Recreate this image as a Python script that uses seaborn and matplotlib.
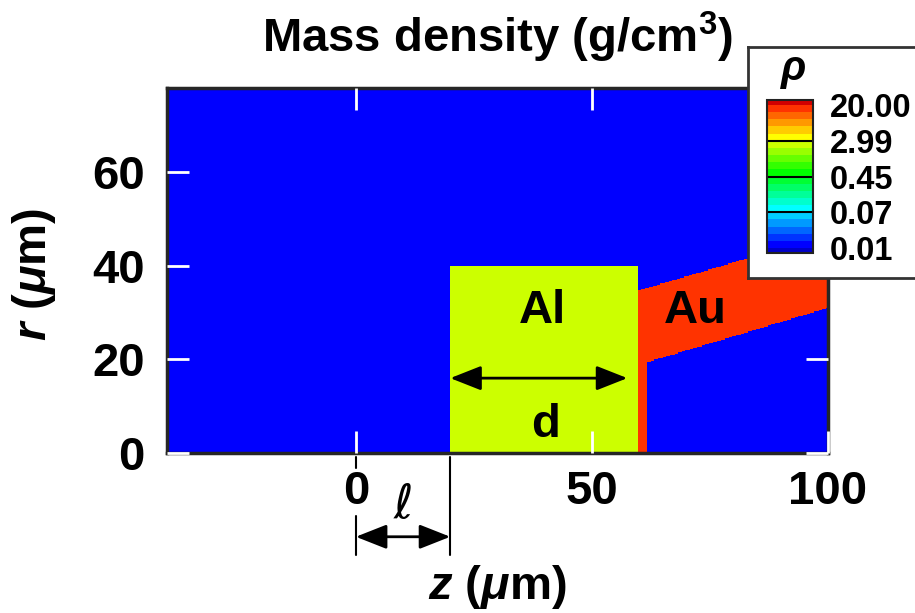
import numpy as np
import pandas as pd
import matplotlib
matplotlib.use("Agg")
import matplotlib.pyplot as plt
import matplotlib.colors as mcolors
from matplotlib.cm import ScalarMappable
import seaborn as sns

# simulation box (um) and cell size
z_range = [-40, 100]
r_range = [0, 78]
cell = 0.25

# mass densities (g/cm3)
rho_vacuum = 0.01
rho_al = 2.7
rho_au = 19.3

# Al slab and Au foil / jet outlines (um)
al_z = [20, 59.8]
al_r = [0, 40]
au_foil_z = [59.8, 61.7]
au_top_z = [59.8, 100]
au_top_r = [34.7, 46.7]
au_bottom_z = [61.7, 100]
au_bottom_r = [19.4, 31.0]

# colour scale
rho_min, rho_max = 0.01, 20
n_bands = 20
cbar_ticks = [0.01, 0.0669, 0.447, 2.99, 20]
cbar_labels = ['0.01', '0.07', '0.45', '2.99', '20.00']

z_ticks = [0, 50, 100]
r_ticks = [0, 20, 40, 60]

# annotation geometry (um)
ell = 20
d_arrow = [20, 57.5]
d_arrow_r = 16

# build the density map
zc = np.arange(z_range[0], z_range[1], cell) + cell / 2
rc = np.arange(r_range[0], r_range[1], cell) + cell / 2
Z, R = np.meshgrid(zc, rc)
rho = np.full(Z.shape, rho_vacuum)
rho[(Z >= al_z[0]) & (Z < al_z[1]) & (R < al_r[1])] = rho_al
top = np.interp(Z, au_top_z, au_top_r)
bottom = np.interp(Z, au_bottom_z, au_bottom_r)
au = (Z >= au_foil_z[0]) & (R < top) & ((Z < au_foil_z[1]) | (R > bottom))
rho[au] = rho_au
df = pd.DataFrame(rho, index=rc, columns=zc)

# rainbow colour bands: blue (0.01) -> cyan -> green -> yellow -> red (20)
hues = (240 - 12 * np.arange(n_bands)) / 360
band_colors = mcolors.hsv_to_rgb(np.column_stack([hues, np.ones(n_bands), np.ones(n_bands)]))
cmap = mcolors.ListedColormap(band_colors)
cmap.set_under('#0000c8')
cmap.set_over('#d20000')
norm = mcolors.LogNorm(vmin=rho_min, vmax=rho_max)

sns.set_style('white')
plt.rcParams['font.family'] = ['Liberation Sans', 'DejaVu Sans']
plt.rcParams['font.weight'] = 'bold'
plt.rcParams['text.color'] = 'black'
plt.rcParams['axes.labelcolor'] = 'black'
plt.rcParams['xtick.labelcolor'] = 'black'
plt.rcParams['ytick.labelcolor'] = 'black'
plt.rcParams['mathtext.fontset'] = 'custom'
plt.rcParams['mathtext.rm'] = 'Liberation Sans:bold'
plt.rcParams['mathtext.bf'] = 'Liberation Sans:bold'
plt.rcParams['mathtext.it'] = 'Liberation Sans:italic:bold'

big = 34


def zx(z):
    return (z - z_range[0]) / cell


def ry(r):
    return (r - r_range[0]) / cell


fig = plt.figure(figsize=(9.15, 6.13), dpi=100)
ax = fig.add_axes([0.1825, 0.261, 0.7224, 0.5954])
sns.heatmap(df, ax=ax, cmap=cmap, norm=norm, cbar=False,
            xticklabels=False, yticklabels=False)
ax.set_ylim(0, len(rc))
ax.set_axisbelow(False)

for s in ax.spines.values():
    s.set_visible(True)
    s.set_linewidth(2.5)
    s.set_color('#262626')

ax.set_xticks([zx(z) for z in z_ticks])
ax.set_xticklabels([str(z) for z in z_ticks])
ax.set_yticks([ry(r) for r in r_ticks])
ax.set_yticklabels([str(r) for r in r_ticks], rotation=0)
ax.tick_params(direction='in', length=16, width=2, color='white', labelcolor='black',
               labelsize=big, top=True, right=True, bottom=True, left=True)
ax.tick_params(axis='x', pad=12)
ax.tick_params(axis='y', pad=16)
ax.xaxis.get_major_ticks()[1].tick1line.set_color('black')

ax.set_title('Mass density (g/cm$^{3}$)', fontsize=big, fontweight='bold',
             color='black', pad=26)
ax.set_xlabel(r'$z$ ($\mu$m)', fontsize=big, fontweight='bold')
ax.set_ylabel(r'$r$ ($\mu$m)', fontsize=big, fontweight='bold')
ax.xaxis.set_label_coords(0.5, -0.30)
ax.yaxis.set_label_coords(-0.165, 0.49)

# labels inside the map
ax.text(zx(39.5), ry(27.7), 'Al', ha='center', va='baseline', fontsize=big)
ax.text(zx(71.8), ry(27.7), 'Au', ha='center', va='baseline', fontsize=big)
ax.text(zx(40.2), ry(3.4), 'd', ha='center', va='baseline', fontsize=big)

arrow = dict(arrowstyle='<|-|>,head_length=0.95,head_width=0.375',
             mutation_scale=20, lw=2, color='black', shrinkA=0, shrinkB=0)
ax.annotate('', xy=(zx(d_arrow[0]), ry(d_arrow_r)),
            xytext=(zx(d_arrow[1]), ry(d_arrow_r)), arrowprops=arrow)

# l : distance from z = 0 to the Al front
ax.annotate('', xy=(zx(0), ry(-17.9)), xytext=(zx(ell), ry(-17.9)),
            arrowprops=arrow, annotation_clip=False)
ax.plot([zx(0), zx(0)], [ry(-0.9), ry(-3.1)], color='black', lw=1.5, clip_on=False)
ax.plot([zx(0), zx(0)], [ry(-13.4), ry(-21.7)], color='black', lw=1.5, clip_on=False)
ax.plot([zx(ell), zx(ell)], [ry(-0.9), ry(-21.7)], color='black', lw=1.5, clip_on=False)
ax.text(zx(ell / 2), ry(-13.8), 'ℓ', ha='center', va='baseline', fontsize=34,
        family=['DejaVu Serif', 'DejaVu Sans'], fontweight='normal')

# colour bar in a framed box
box = fig.add_axes([748 / 915, 335 / 613, 0.2, 231 / 613])
box.set_xticks([])
box.set_yticks([])
box.set_facecolor('white')
for s in box.spines.values():
    s.set_linewidth(2)
    s.set_color('#333333')

cax = fig.add_axes([767 / 915, 360 / 613, 46 / 915, 153 / 613])
cb = fig.colorbar(ScalarMappable(norm=norm, cmap=cmap), cax=cax, extend='both',
                  extendfrac=0.035, extendrect=True)
cb.set_ticks(cbar_ticks, labels=cbar_labels)
cb.ax.minorticks_off()
cb.ax.tick_params(length=0, labelsize=23.5, pad=12, labelcolor='black')
cb.outline.set_linewidth(1.5)
cb.outline.set_color('#222222')
for v in cbar_ticks[1:-1]:
    cb.ax.axhline(v, color='black', lw=1.5)
fig.text(793 / 915, 1 - 80 / 613, r'$\rho$', ha='center', va='baseline', fontsize=30)

plt.savefig('out.png', dpi=100)
